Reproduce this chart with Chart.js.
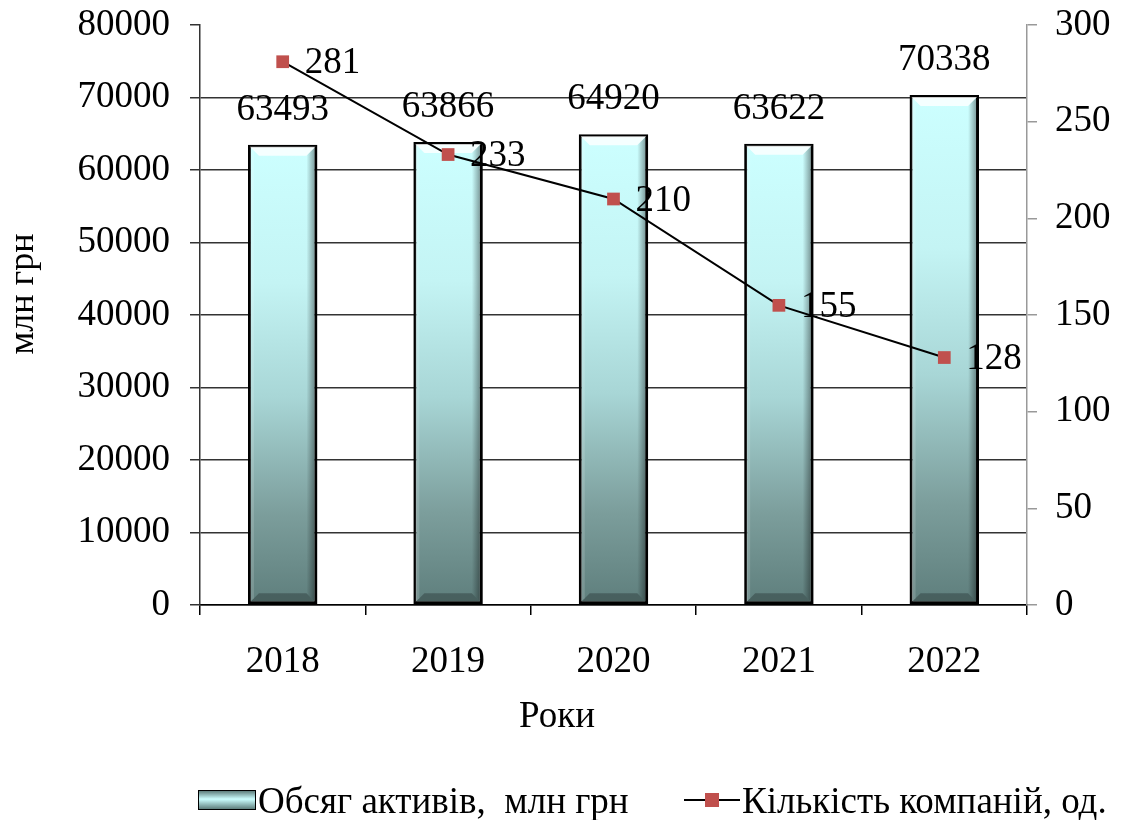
<!DOCTYPE html>
<html><head><meta charset="utf-8">
<script src="https://cdn.jsdelivr.net/npm/chart.js@4/dist/chart.umd.min.js"></script>
<style>
html,body{margin:0;padding:0;background:#fff;}
#wrap{position:relative;width:1122px;height:820px;}
#legend{position:absolute;left:0;top:780px;width:1122px;height:40px;font-family:'Liberation Serif',serif;font-size:37px;color:#000;}
.li{position:absolute;top:0;display:flex;align-items:center;height:40px;white-space:pre;}
.box{width:58px;height:20px;border:1.5px solid #000;box-sizing:border-box;background:linear-gradient(#5e7e7c,#ccffff 45%,#5e7e7c);margin-right:2px;}
.ln{position:relative;width:56px;height:2px;background:#000;margin-right:2px;}
.ln i{position:absolute;left:21px;top:-6px;width:14px;height:14px;background:#c0504d;}
</style>
</head><body>
<div id="wrap">
<canvas id="c" width="1122" height="820"></canvas>
<div id="legend">
  <div class="li" style="left:198px"><span class="box"></span>Обсяг активів,  млн грн</div>
  <div class="li" style="left:684px"><span class="ln"><i></i></span>Кількість компаній, од.</div>
</div>
</div>
<script>
const categories = ['2018','2019','2020','2021','2022'];
const assets = [63493, 63866, 64920, 63622, 70338];
const companies = [281, 233, 210, 155, 128];
const leftTicks = [0,10000,20000,30000,40000,50000,60000,70000,80000];
const rightTicks = [0,50,100,150,200,250,300];
const xTitle = 'Роки';
const yTitle = 'млн грн';

const FONT = 'Liberation Serif';

function barGradient(ctx){
  const chart = ctx.chart;
  const area = chart.chartArea;
  if(!area) return '#a8d4d4';
  const ys = chart.scales.y;
  const top = ys.getPixelForValue(ctx.raw);
  const bottom = ys.getPixelForValue(0);
  const g = chart.ctx.createLinearGradient(0, top, 0, bottom);
  g.addColorStop(0, '#ccffff');
  g.addColorStop(0.3, '#c4f4f4');
  g.addColorStop(0.55, '#a8d6d6');
  g.addColorStop(0.8, '#7c9e9c');
  g.addColorStop(1, '#5e7e7c');
  return g;
}

const bevelPlugin = {
  id:'bevel',
  afterDatasetDraw(chart, args){
    if(args.index !== 0) return;
    const c = chart.ctx;
    const meta = chart.getDatasetMeta(0);
    meta.data.forEach(el=>{
      const l = el.x - el.width/2 + 2, r = el.x + el.width/2 - 2, t = el.y + 2, b = el.base - 2;
      const d = 9;
      c.save();
      c.beginPath(); c.moveTo(l,t); c.lineTo(r,t); c.lineTo(r-d,t+d); c.lineTo(l+d,t+d); c.closePath();
      c.fillStyle='rgba(255,255,255,0.8)'; c.fill();
      const gr = c.createLinearGradient(r-d,0,r,0);
      gr.addColorStop(0,'rgba(0,0,0,0)'); gr.addColorStop(1,'rgba(0,0,0,0.4)');
      c.beginPath(); c.moveTo(r,t); c.lineTo(r,b); c.lineTo(r-d,b-d); c.lineTo(r-d,t+d); c.closePath();
      c.fillStyle=gr; c.fill();
      c.beginPath(); c.moveTo(l,t); c.lineTo(l,b); c.lineTo(l+4,b-4); c.lineTo(l+4,t+4); c.closePath();
      c.fillStyle='rgba(255,255,255,0.15)'; c.fill();
      c.beginPath(); c.moveTo(l,b); c.lineTo(r,b); c.lineTo(r-d,b-d); c.lineTo(l+d,b-d); c.closePath();
      c.fillStyle='rgba(0,0,0,0.25)'; c.fill();
      c.restore();
    });
  }
};

const labelPlugin = {
  id:'labels',
  afterDatasetsDraw(chart){
    const c = chart.ctx;
    c.save();
    c.font = '37px "' + FONT + '"';
    c.fillStyle = '#000';
    const m0 = chart.getDatasetMeta(0);
    c.textAlign='center'; c.textBaseline='alphabetic';
    m0.data.forEach((el,i)=>{ c.fillText(String(assets[i]), el.x, el.y - 25); });
    const m1 = chart.getDatasetMeta(1);
    c.textAlign='left'; c.textBaseline='middle';
    m1.data.forEach((el,i)=>{ c.fillText(String(companies[i]), el.x + 22, el.y + 2); });
    c.textAlign='center'; c.textBaseline='alphabetic';
    c.fillText(xTitle, 557, 727);
    c.save();
    c.translate(33, 294);
    c.rotate(-Math.PI/2);
    c.font = '36px "' + FONT + '"';
    c.fillText(yTitle, 0, 0);
    c.restore();
    c.restore();
  }
};

new Chart(document.getElementById('c'), {
  data:{
    labels: categories,
    datasets:[
      {type:'bar', label:'Обсяг активів,  млн грн', data: assets, yAxisID:'y',
       backgroundColor: barGradient, borderColor:'#000', borderWidth:3, borderSkipped:false,
       categoryPercentage:1, barPercentage:0.42, order:2},
      {type:'line', label:'Кількість компаній, од.', data: companies, yAxisID:'y1',
       borderColor:'#000', borderWidth:2, pointStyle:'rect', pointRadius:9, pointHoverRadius:9,
       pointBackgroundColor:'#c0504d', pointBorderColor:'#c0504d', pointBorderWidth:0, tension:0, order:1}
    ]
  },
  options:{
    responsive:false, animation:false, devicePixelRatio:1,
    layout:{padding:{top:25,bottom:60,left:0,right:0}},
    plugins:{legend:{display:false}, tooltip:{enabled:false}},
    scales:{
      x:{
        offset:true,
        grid:{display:true, drawOnChartArea:false, drawTicks:true, tickLength:10, color:'#000', offset:true, lineWidth:1.5},
        border:{display:true, color:'#000', width:1.5},
        ticks:{font:{family:FONT,size:37}, color:'#000', padding:25},
        afterFit(s){ s.height = 155; s.paddingLeft = 0; s.paddingRight = 0; }
      },
      y:{
        position:'left', min:0, max:80000,
        afterBuildTicks(s){ s.ticks = leftTicks.map(v=>({value:v})); },
        grid:{color:(c)=> c.tick && c.tick.value===80000 ? 'rgba(0,0,0,0)' : '#333', lineWidth:1.5, tickLength:10, tickColor:'#333'},
        border:{display:true, color:'#333', width:1.5},
        ticks:{font:{family:FONT,size:37}, color:'#000', padding:20, callback:(v)=>String(v)},
        afterFit(s){ s.width = 200; s.paddingTop = 0; s.paddingBottom = 0; }
      },
      y1:{
        position:'right', min:0, max:300,
        afterBuildTicks(s){ s.ticks = rightTicks.map(v=>({value:v})); },
        grid:{drawOnChartArea:false, color:'#999', lineWidth:1.5, tickLength:10},
        border:{display:true, color:'#999', width:1.5},
        ticks:{font:{family:FONT,size:37}, color:'#000', padding:18, callback:(v)=>String(v)},
        afterFit(s){ s.width = 95; s.paddingTop = 0; s.paddingBottom = 0; }
      }
    }
  },
  plugins:[bevelPlugin, labelPlugin]
});
</script>
</body></html>
